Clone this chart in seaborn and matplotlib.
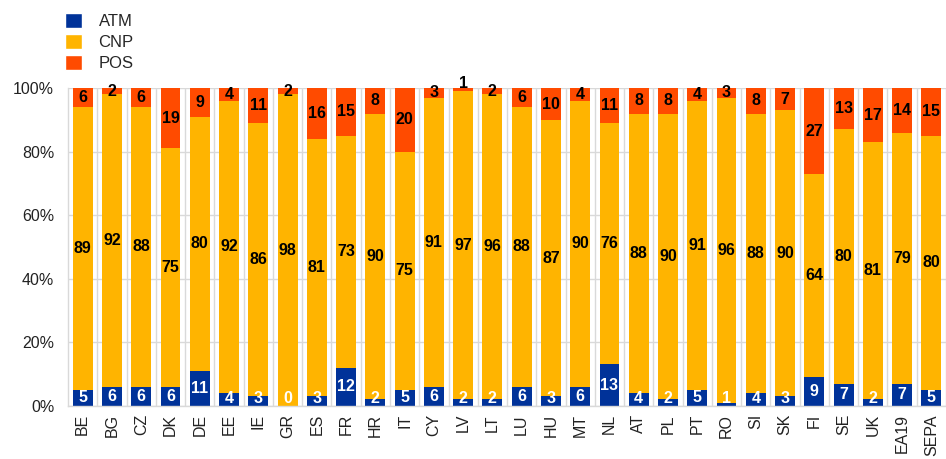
import numpy as np
import pandas as pd
import seaborn as sns
import matplotlib.pyplot as plt
from matplotlib.patches import Patch

countries = ["BE", "BG", "CZ", "DK", "DE", "EE", "IE", "GR", "ES", "FR",
             "HR", "IT", "CY", "LV", "LT", "LU", "HU", "MT", "NL", "AT",
             "PL", "PT", "RO", "SI", "SK", "FI", "SE", "UK", "EA19", "SEPA"]
atm = [5, 6, 6, 6, 11, 4, 3, 0, 3, 12, 2, 5, 6, 2, 2, 6, 3, 6, 13, 4,
       2, 5, 1, 4, 3, 9, 7, 2, 7, 5]
cnp = [89, 92, 88, 75, 80, 92, 86, 98, 81, 73, 90, 75, 91, 97, 96, 88, 87, 90, 76, 88,
       90, 91, 96, 88, 90, 64, 80, 81, 79, 80]
pos = [6, 2, 6, 19, 9, 4, 11, 2, 16, 15, 8, 20, 3, 1, 2, 6, 10, 4, 11, 8,
       8, 4, 3, 8, 7, 27, 13, 17, 14, 15]

colors = {"ATM": "#003299", "CNP": "#FFB400", "POS": "#FF4B00"}

df = pd.DataFrame({"country": countries, "ATM": atm, "CNP": cnp, "POS": pos})
df["ATM_top"] = df["ATM"]
df["CNP_top"] = df["ATM"] + df["CNP"]
df["POS_top"] = df["CNP_top"] + df["POS"]

sns.set_style("white")
plt.rcParams["font.family"] = ["Liberation Sans", "DejaVu Sans"]

fig = plt.figure(figsize=(9.46, 4.59), dpi=100)
ax = fig.add_axes([0.072, 0.116, 0.928, 0.692])

# draw cumulative bars back to front
for name in ["POS", "CNP", "ATM"]:
    sns.barplot(data=df, x="country", y=f"{name}_top", color=colors[name],
                width=0.68, saturation=1, linewidth=0, edgecolor="none",
                ax=ax, zorder=3)

# value labels
x = np.arange(len(countries))
lab = dict(ha="center", va="center", fontsize=11.5, fontweight="bold", zorder=5)
for i in x:
    a, c, p = atm[i], cnp[i], pos[i]
    ax.text(i, max(a / 2, 2.3), str(a), color="white", **lab)
    ax.text(i, a + c / 2, str(c), color="black", **lab)
    yp = a + c + p / 2
    if p <= 1:
        yp = 101.3
    ax.text(i, yp, str(p), color="black", **lab)

ax.set_xlim(-0.5, len(countries) - 0.5)
ax.set_ylim(0, 100)
ax.set_yticks(np.arange(0, 101, 20))
ax.set_yticklabels([f"{v}%" for v in range(0, 101, 20)], fontsize=11.5, color="#222222")
ax.set_xticks(x)
ax.set_xticklabels(countries, rotation=90, fontsize=11.5, color="#222222")
ax.set_xticks(x + 0.5, minor=True)
ax.set_xlabel("")
ax.set_ylabel("")
ax.tick_params(axis="x", which="both", length=0, pad=6)
ax.tick_params(axis="y", which="both", length=0, pad=10)
ax.grid(axis="y", color="#d9d9d9", linewidth=1, zorder=0)
ax.grid(axis="x", which="minor", color="#d9d9d9", linewidth=1, zorder=0)
ax.set_axisbelow(True)
for side in ["top", "right"]:
    ax.spines[side].set_visible(False)
for side in ["left", "bottom"]:
    ax.spines[side].set_color("#d9d9d9")
    ax.spines[side].set_linewidth(1)
    ax.spines[side].set_zorder(4)

handles = [Patch(facecolor=colors[k], label=k) for k in ["ATM", "CNP", "POS"]]
fig.legend(handles=handles, loc="upper left", bbox_to_anchor=(0.053, 1.005),
           frameon=False, fontsize=12, handlelength=1.0, handleheight=1.0,
           labelspacing=0.3, handletextpad=1.0)

fig.savefig("out.png", dpi=100)
